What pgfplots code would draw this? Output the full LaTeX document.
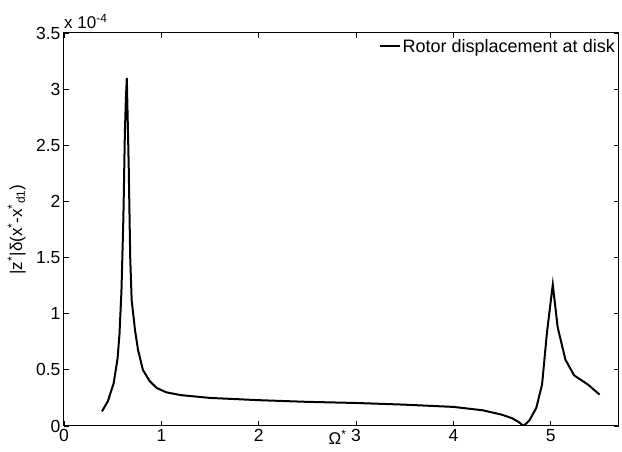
\documentclass[border=0pt]{standalone}
\usepackage{fontspec}
\setmainfont{Liberation Sans}
\usepackage{pgfplots}
\pgfplotsset{compat=1.18}
\begin{document}
\begin{tikzpicture}
\path[use as bounding box] (-64pt,-26pt) rectangle (558pt,426pt);
\begin{axis}[
  at={(0,0)}, anchor=south west,
  scale only axis,
  width=555pt, height=393pt,
  clip mode=individual,
  xmin=0, xmax=5.7, ymin=0, ymax=3.5,
  xtick={0,1,2,3,4,5},
  ytick={0,0.5,1,1.5,2,2.5,3,3.5},
  yticklabels={0,0.5,1,1.5,2,2.5,3,3.5},
  tick align=inside,
  major tick length=5pt,
  axis line style={line width=1pt},
  every tick/.style={black, line width=0.8pt},
  /pgf/number format/assume math mode=true,
  tick label style={font=\fontsize{17.5}{19}\selectfont},
  yticklabel style={xshift=0pt},
  xticklabel style={yshift=0pt},
  xlabel={Ω\textsuperscript{*}},
  xlabel style={at={(axis description cs:0.5,0)}, anchor=north, yshift=-3pt, xshift=-4pt, inner sep=1pt, font=\fontsize{17}{19}\selectfont},
  ylabel={|z\textsuperscript{*}|δ(x\textsuperscript{*}-x\textsuperscript{*}\textsubscript{d1})},
  ylabel style={at={(axis description cs:-0.085,0.5)}, anchor=center, font=\fontsize{17}{19}\selectfont},
  legend style={draw=none, fill=none, at={(rel axis cs:1,1)}, anchor=north east, font=\fontsize{18}{20}\selectfont, inner sep=1pt, xshift=-1pt, yshift=-3pt},
  legend cell align=left,
  legend image code/.code={\draw[#1, line width=2pt] (0pt,0pt) -- (20pt,0pt);},
]
\addplot[black, line width=2pt] coordinates {
(0.39,0.13) (0.45,0.22) (0.51,0.38) (0.55,0.6) (0.57,0.82) (0.59,1.2)
(0.61,1.86) (0.625,2.6) (0.635,2.9) (0.645,3.1) (0.655,2.7) (0.665,2.3)
(0.68,1.5) (0.695,1.12) (0.73,0.85) (0.76,0.68) (0.81,0.5) (0.88,0.4)
(0.95,0.34) (1.05,0.3) (1.2,0.275) (1.5,0.25) (2.0,0.23) (2.5,0.215)
(3.0,0.205) (3.5,0.19) (4.0,0.17) (4.3,0.14) (4.5,0.10) (4.6,0.07)
(4.67,0.035) (4.72,0.0) (4.78,0.05) (4.85,0.16) (4.91,0.37) (4.96,0.83)
(5.02,1.26) (5.07,0.88) (5.15,0.59) (5.24,0.45) (5.38,0.37) (5.5,0.28)
};
\addlegendentry{Rotor displacement at disk}
\node[anchor=south west, font=\fontsize{17}{19}\selectfont, inner sep=0pt, yshift=4pt] at (rel axis cs:0,1) {x 10\textsuperscript{-4}};
\end{axis}
\end{tikzpicture}
\end{document}
